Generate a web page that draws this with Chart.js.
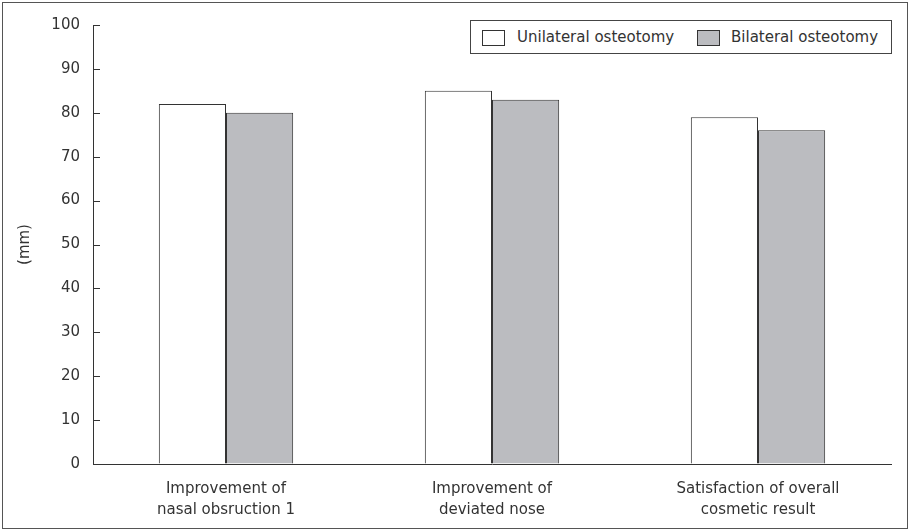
<!DOCTYPE html>
<html>
<head>
<meta charset="utf-8">
<script src="https://cdn.jsdelivr.net/npm/chart.js@4"></script>
<style>
  body { margin: 0; background: #fff; }
  #wrap { position: relative; width: 910px; height: 531px; }
  #legend {
    position: absolute; left: 470px; top: 20px; width: 420px; height: 32px;
    border: 1px solid #444; background: #fff; box-sizing: content-box;
    font-family: "DejaVu Sans", sans-serif; font-size: 15px; color: #333;
  }
  .item { position: absolute; top: 0; height: 32px; line-height: 32px; white-space: nowrap; }
  .sw { position: absolute; top: 9px; width: 21px; height: 14px; border: 1px solid #333; }
  .lbl { position: absolute; top: 0; }
</style>
</head>
<body>
<div id="wrap">
  <canvas id="chart" width="910" height="531"></canvas>
  <div id="legend"></div>
</div>
<script>
// données
const categories = [
  ['Improvement of', 'nasal obsruction 1'],
  ['Improvement of', 'deviated nose'],
  ['Satisfaction of overall', 'cosmetic result']
];
const seriesNames = ['Unilateral osteotomy', 'Bilateral osteotomy'];
const unilateral = [82, 85, 79];
const bilateral = [80, 83, 76];
const yMin = 0, yMax = 100, yStep = 10;

const FONT = '"DejaVu Sans", sans-serif';
const TXT = '#333';
const colors = ['#ffffff', '#bbbcc0'];

// légende en HTML, dans le cadre
const legendPos = [{ sw: 11, lbl: 46 }, { sw: 226, lbl: 260 }];
document.getElementById('legend').innerHTML = seriesNames.map((name, i) => `
  <div class="item">
    <div class="sw" style="left:${legendPos[i].sw}px;background:${colors[i]}"></div>
    <span class="lbl" style="left:${legendPos[i].lbl}px">${name}</span>
  </div>`).join('');

// cadre extérieur + petites graduations tournées vers l'intérieur
const decor = {
  id: 'decor',
  afterDraw(chart) {
    const ctx = chart.ctx;
    const y = chart.scales.y;
    ctx.save();
    ctx.strokeStyle = '#555';
    ctx.lineWidth = 1;
    ctx.strokeRect(2.5, 2.5, 905, 526);
    ctx.strokeStyle = '#333';
    y.ticks.forEach(t => {
      const py = Math.round(y.getPixelForValue(t.value)) + 0.5;
      ctx.beginPath();
      ctx.moveTo(y.right, py);
      ctx.lineTo(y.right + 7, py);
      ctx.stroke();
    });
    ctx.restore();
  }
};

new Chart(document.getElementById('chart').getContext('2d'), {
  type: 'bar',
  data: {
    labels: categories,
    datasets: [{
      label: seriesNames[0],
      data: unilateral,
      backgroundColor: colors[0],
      borderColor: '#333',
      borderWidth: 1
    }, {
      label: seriesNames[1],
      data: bilateral,
      backgroundColor: colors[1],
      borderColor: '#333',
      borderWidth: 1
    }]
  },
  options: {
    responsive: false,
    animation: false,
    layout: { padding: { left: 0, top: 25, right: 19, bottom: 0 } },
    plugins: { legend: { display: false }, tooltip: { enabled: false } },
    datasets: { bar: { barPercentage: 1, categoryPercentage: 0.505 } },
    scales: {
      x: {
        grid: { display: true, drawOnChartArea: false, drawTicks: false },
        border: { display: true, color: '#333', width: 1 },
        ticks: { color: TXT, padding: 15, font: { family: FONT, size: 15, lineHeight: 1.4 }, maxRotation: 0 },
        afterFit(scale) { scale.height = 67; }
      },
      y: {
        min: yMin, max: yMax,
        grid: { display: true, drawOnChartArea: false, drawTicks: false },
        border: { display: true, color: '#333', width: 1 },
        ticks: { stepSize: yStep, color: TXT, padding: 13, font: { family: FONT, size: 15 } },
        title: { display: true, text: '(mm)', color: TXT, font: { family: FONT, size: 15 }, padding: { top: 16, bottom: 0 } },
        afterFit(scale) { scale.width = 93; }
      }
    }
  },
  plugins: [decor]
});
</script>
</body>
</html>
